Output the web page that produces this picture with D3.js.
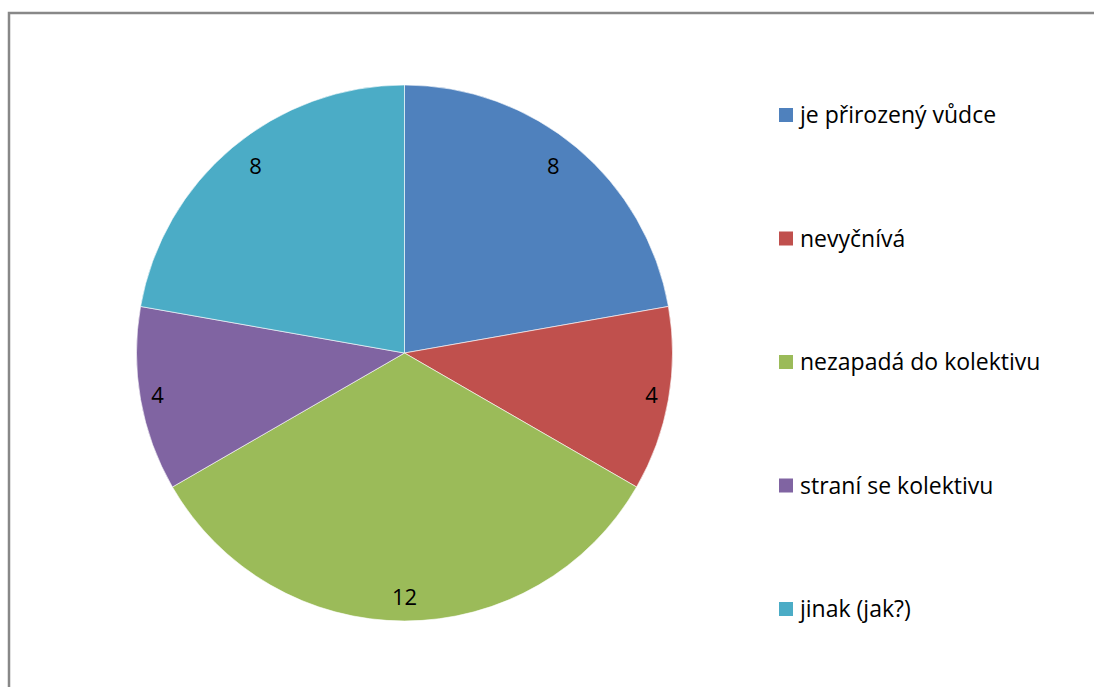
<!DOCTYPE html>
<html>
<head>
<meta charset="utf-8">
<script src="https://cdn.jsdelivr.net/npm/d3@7"></script>
<style>
  body { margin: 0; background: #fff; }
  text { font-family: "Open Sans", sans-serif; }
</style>
</head>
<body>
<div id="chart"></div>
<script>
// data
var categories = ["je přirozený vůdce", "nevyčnívá", "nezapadá do kolektivu", "straní se kolektivu", "jinak (jak?)"];
var values = [8, 4, 12, 4, 8];
var colors = ["#4F81BD", "#C0504D", "#9BBB59", "#8064A2", "#4BACC6"];

var width = 1094, height = 687;

var svg = d3.select("#chart").append("svg")
    .attr("width", width)
    .attr("height", height);

// chart border (runs off the right and bottom edge)
svg.append("rect")
    .attr("x", 9)
    .attr("y", 13)
    .attr("width", 1100)
    .attr("height", 700)
    .attr("fill", "#fff")
    .attr("stroke", "#888")
    .attr("stroke-width", 2.5);

var cx = 404.5, cy = 353, radius = 268;

var pie = d3.pie().sort(null).value(function(d) { return d; });
var arc = d3.arc().innerRadius(0).outerRadius(radius);
var labelArc = d3.arc().innerRadius(radius * 0.9).outerRadius(radius * 0.9);

var g = svg.append("g")
    .attr("transform", "translate(" + cx + "," + cy + ")");

var slices = g.selectAll(".slice")
    .data(pie(values))
    .enter().append("g")
    .attr("class", "slice");

slices.append("path")
    .attr("d", arc)
    .attr("fill", function(d, i) { return colors[i]; })
    .attr("stroke", "#fff")
    .attr("stroke-width", 0.6);

// labels sit a bit closer to the vertical axis for top slices, further out for side ones
slices.append("text")
    .attr("transform", function(d) {
        var c = labelArc.centroid(d);
        var sideways = Math.abs(c[0]) > Math.abs(c[1]);
        var k = sideways ? 1.04 : 0.96;
        return "translate(" + (c[0] * k) + "," + (c[1] * (sideways ? 1 : 1.01)) + ")";
    })
    .attr("text-anchor", "middle")
    .attr("dy", "0.36em")
    .style("font-size", "22px")
    .attr("fill", "#000")
    .text(function(d) { return d.data; });

// legend
var legendY = d3.scalePoint()
    .domain(categories)
    .range([115, 609]);

var legend = svg.selectAll(".legend")
    .data(categories)
    .enter().append("g")
    .attr("class", "legend")
    .attr("transform", function(d) { return "translate(779," + legendY(d) + ")"; });

legend.append("rect")
    .attr("x", 0)
    .attr("y", -7)
    .attr("width", 14)
    .attr("height", 14)
    .attr("fill", function(d, i) { return colors[i]; });

legend.append("text")
    .attr("x", 21)
    .attr("dy", "0.35em")
    .style("font-size", "23px")
    .attr("fill", "#000")
    .text(function(d) { return d; });
</script>
</body>
</html>
